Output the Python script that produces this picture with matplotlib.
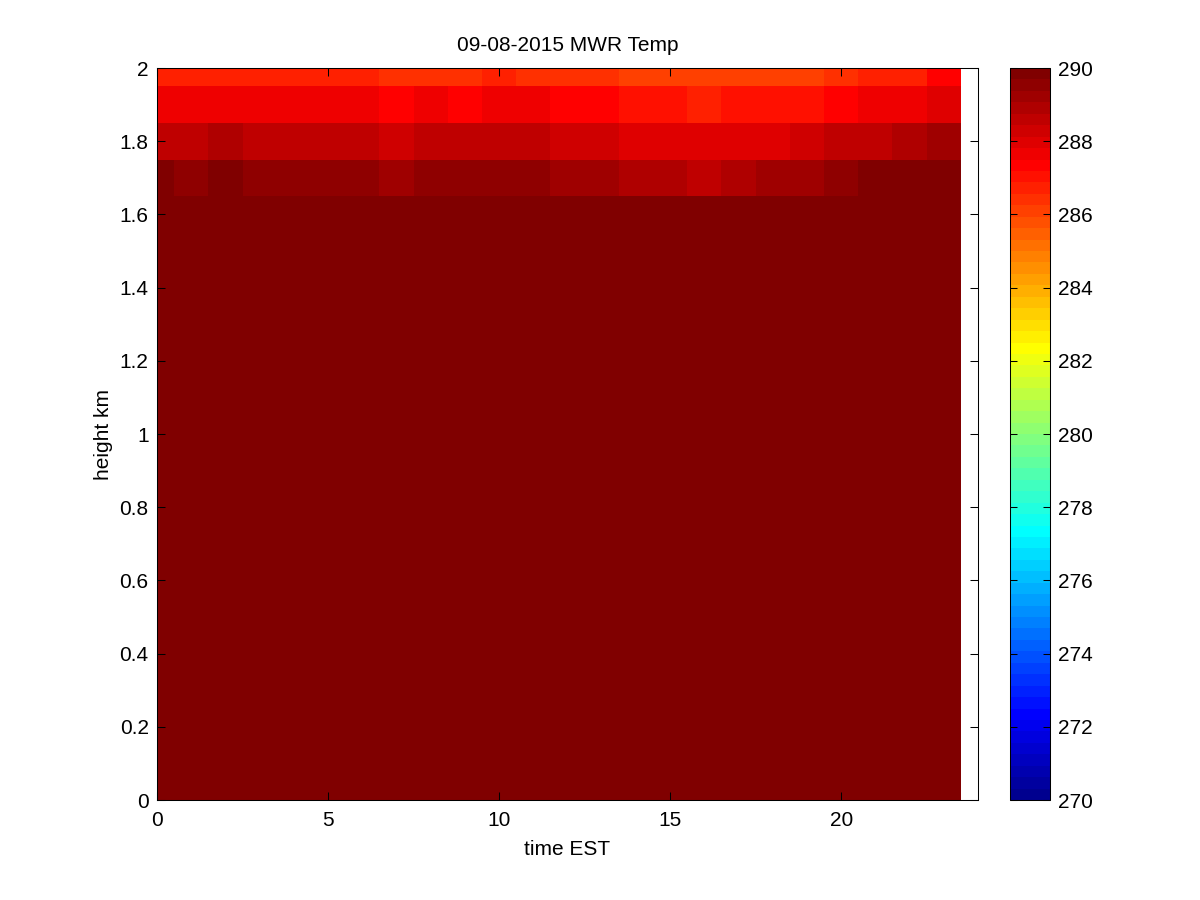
import numpy as np
import matplotlib
matplotlib.use("Agg")
import matplotlib.pyplot as plt
from matplotlib.colors import LinearSegmentedColormap, Normalize
from matplotlib.ticker import FuncFormatter

# hour of day (EST), one profile per hour
hours = [0, 1, 2, 3, 4, 5, 6, 7, 8, 9, 10, 11,
         12, 13, 14, 15, 16, 17, 18, 19, 20, 21, 22, 23]
# retrieval heights (km)
heights = [0.0, 0.1, 0.2, 0.3, 0.4, 0.5, 0.6, 0.7, 0.8, 0.9, 1.0,
           1.1, 1.2, 1.3, 1.4, 1.5, 1.6, 1.7, 1.8, 1.9, 2.0]

# temperature (K) for the levels that are below the colour limit
temp_low_levels = 290.5  # 0 - 1.6 km, saturated at the top of the scale
temp_1p7 = [289.8, 289.4, 289.9, 289.4, 289.4, 289.4, 289.4, 289.2, 289.4, 289.4, 289.4, 289.4,
            289.2, 289.2, 288.9, 288.9, 288.6, 288.9, 289.2, 289.2, 289.5, 289.9, 289.9, 289.9]
temp_1p8 = [288.6, 288.6, 288.9, 288.6, 288.6, 288.6, 288.6, 288.3, 288.6, 288.6, 288.6, 288.6,
            288.3, 288.3, 288.0, 288.0, 287.9, 288.0, 288.0, 288.3, 288.6, 288.6, 288.9, 289.2]
temp_1p9 = [287.7, 287.7, 287.7, 287.7, 287.7, 287.7, 287.7, 287.4, 287.7, 287.4, 287.7, 287.7,
            287.4, 287.4, 287.0, 287.0, 286.7, 287.0, 287.0, 287.0, 287.4, 287.7, 287.7, 288.1]
temp_2p0 = [286.7, 286.7, 286.7, 286.7, 286.7, 286.7, 286.7, 286.4, 286.4, 286.4, 286.7, 286.4,
            286.4, 286.4, 286.1, 286.1, 286.1, 286.1, 286.1, 286.1, 286.4, 286.7, 286.7, 287.3]

clim = (270, 290)
cbar_ticks = [270, 272, 274, 276, 278, 280, 282, 284, 286, 288, 290]

# MATLAB style jet(64)
_jet = {
    "red": [(0, 0, 0), (23 / 63, 0, 0), (39 / 63, 1, 1), (55 / 63, 1, 1), (1, 0.5, 0.5)],
    "green": [(0, 0, 0), (7 / 63, 0, 0), (23 / 63, 1, 1), (39 / 63, 1, 1), (55 / 63, 0, 0), (1, 0, 0)],
    "blue": [(0, 0.5625, 0.5625), (7 / 63, 1, 1), (23 / 63, 1, 1), (39 / 63, 0, 0), (1, 0, 0)],
}
cmap = LinearSegmentedColormap("mjet", _jet, N=64)

plt.rcParams["font.family"] = ["Liberation Sans", "DejaVu Sans"]
plt.rcParams["font.size"] = 15

t = np.array(hours, dtype=float)
h = np.array(heights)
grid = np.full((len(h), len(t)), temp_low_levels)
grid[-4] = temp_1p7
grid[-3] = temp_1p8
grid[-2] = temp_1p9
grid[-1] = temp_2p0

t_edges = np.concatenate([t - 0.5, [t[-1] + 0.5]])
h_edges = np.concatenate([h - 0.05, [h[-1] + 0.05]])

fig = plt.figure(figsize=(12, 9), dpi=100)
ax = fig.add_axes([157 / 1200, 100 / 900, 821 / 1200, 732 / 900])
cax = fig.add_axes([1010 / 1200, 100 / 900, 40 / 1200, 732 / 900])

mesh = ax.pcolormesh(t_edges, h_edges, grid, cmap=cmap,
                     norm=Normalize(vmin=clim[0], vmax=clim[1]), shading="flat")
ax.set_xlim(0, 24)
ax.set_ylim(0, 2)
ax.set_xticks([0, 5, 10, 15, 20])
ax.set_yticks([0, 0.2, 0.4, 0.6, 0.8, 1.0, 1.2, 1.4, 1.6, 1.8, 2.0])
ax.yaxis.set_major_formatter(FuncFormatter(lambda v, p: f"{v:g}"))
ax.tick_params(direction="in", top=True, right=True, length=6, width=0.75, pad=6)
ax.tick_params(axis="x", pad=8)
for s in ax.spines.values():
    s.set_linewidth(0.75)
ax.set_xlabel("time EST", labelpad=7)
ax.set_ylabel("height km", labelpad=5)
ax.set_title("09-08-2015 MWR Temp", fontsize=15, pad=12)

cb = fig.colorbar(mesh, cax=cax, ticks=cbar_ticks)
cb.ax.tick_params(direction="in", left=True, right=True, length=5, width=0.75, pad=6)
cb.outline.set_linewidth(0.75)

fig.savefig("out.png", dpi=100)
